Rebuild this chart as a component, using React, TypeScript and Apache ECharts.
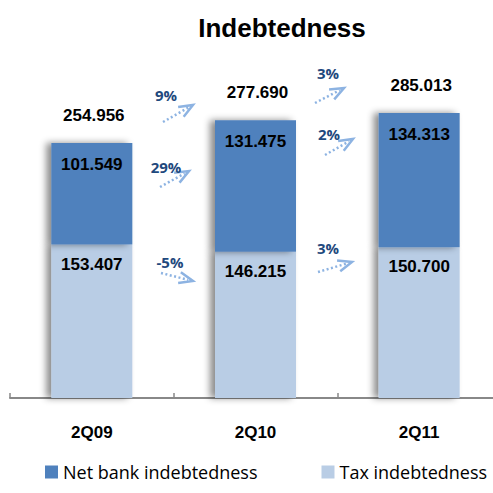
import React, { useEffect, useRef } from "react";
import * as echarts from "echarts";

const categories = ["2Q09", "2Q10", "2Q11"];
const taxIndebtedness = [153.407, 146.215, 150.7];
const netBankIndebtedness = [101.549, 131.475, 134.313];
const totals = [254.956, 277.69, 285.013];
const totalChanges = ["9%", "3%"];
const netBankChanges = ["29%", "2%"];
const taxChanges = ["-5%", "3%"];

const fmt = (v: number) => v.toFixed(3);

const ARROW_COLOR = "#8DB3E2";
const PCT_COLOR = "#1F497D";

function arrow(x0: number, y0: number, x1: number, y1: number, text: string, tx: number, ty: number) {
  const dx = x1 - x0;
  const dy = y1 - y0;
  const ang = Math.atan2(dy, dx);
  const len = 15;
  const half = (22 * Math.PI) / 180;
  const b1 = [x1 - len * Math.cos(ang - half), y1 - len * Math.sin(ang - half)];
  const b2 = [x1 - len * Math.cos(ang + half), y1 - len * Math.sin(ang + half)];
  const sx = x0 + dx * 0.85;
  const sy = y0 + dy * 0.85;
  return [
    {
      type: "line",
      shape: { x1: x0, y1: y0, x2: sx, y2: sy },
      style: { stroke: ARROW_COLOR, lineWidth: 2.5, lineDash: [2, 2.5] },
    },
    {
      type: "polyline",
      shape: { points: [b1, [x1, y1], b2] },
      style: { stroke: ARROW_COLOR, lineWidth: 2.5, fill: "none" },
    },
    {
      type: "text",
      x: tx,
      y: ty,
      style: {
        text,
        fill: PCT_COLOR,
        font: 'bold 15px "Open Sans"',
        align: "center",
        verticalAlign: "middle",
      },
    },
  ];
}

export default function App() {
  const ref = useRef<HTMLDivElement>(null);
  useEffect(() => {
    if (!ref.current) return;
    const chart = echarts.init(ref.current, null, { renderer: "svg" });
    const barLabel = {
      show: true,
      position: "insideTop",
      distance: 11,
      color: "#000",
      fontFamily: "Liberation Sans, Arial",
      fontWeight: "bold",
      fontSize: 17,
      formatter: (p: any) => fmt(p.value),
    };
    const shadow = {
      shadowColor: "rgba(0,0,0,0.45)",
      shadowBlur: 7,
      shadowOffsetX: -5,
    };
    const graphics: any[] = [
      ...arrow(163, 122, 193, 105, totalChanges[0], 166, 95),
      ...arrow(160, 187, 189, 171, netBankChanges[0], 166, 167),
      ...arrow(161, 273, 193, 281, taxChanges[0], 170, 262),
      ...arrow(315, 103, 344, 88, totalChanges[1], 328, 73),
      ...arrow(325, 155, 353, 139, netBankChanges[1], 329, 134),
      ...arrow(318, 272, 352, 262, taxChanges[1], 328, 248),
    ];
    chart.setOption({
      animation: false,
      title: {
        text: "Indebtedness",
        left: 277,
        textAlign: "center",
        top: 10,
        textStyle: {
          fontFamily: "Liberation Sans, Arial",
          fontWeight: "bold",
          fontSize: 26,
          color: "#000",
        },
      },
      legend: {
        data: ["Net bank indebtedness", "Tax indebtedness"],
        left: 45,
        top: 463,
        padding: 0,
        itemWidth: 13,
        itemHeight: 13,
        itemGap: 64,
        icon: "rect",
        textStyle: { fontFamily: "Open Sans", fontSize: 18, color: "#000" },
      },
      grid: { left: 10, width: 491, top: 48, bottom: 95, outerBoundsMode: "none", containLabel: false },
      xAxis: {
        type: "category",
        data: categories,
        axisLine: { lineStyle: { color: "#888", width: 2 } },
        axisTick: { show: true, inside: true, length: 5, interval: 0, lineStyle: { color: "#888", width: 1.5 } },
        axisLabel: {
          margin: 26,
          color: "#000",
          fontFamily: "Liberation Sans, Arial",
          fontWeight: "bold",
          fontSize: 17,
        },
      },
      yAxis: { type: "value", min: 0, max: 350, show: false, splitLine: { show: false } },
      series: [
        {
          name: "Tax indebtedness",
          type: "bar",
          stack: "total",
          barWidth: 81,
          data: taxIndebtedness,
          itemStyle: { color: "#B9CDE5", ...shadow },
          label: barLabel,
        },
        {
          name: "Net bank indebtedness",
          type: "bar",
          stack: "total",
          barWidth: 81,
          data: netBankIndebtedness,
          itemStyle: { color: "#4F81BD", ...shadow },
          label: { ...barLabel, distance: 13 },
        },
        {
          name: "Total",
          type: "scatter",
          data: totals,
          symbolSize: 0,
          silent: true,
          itemStyle: { opacity: 1, color: "#000" },
          label: {
            show: true,
            position: "top",
            distance: 19,
            offset: [2, 0],
            color: "#000",
            fontFamily: "Liberation Sans, Arial",
            fontWeight: "bold",
            fontSize: 17,
            formatter: (p: any) => fmt(p.value),
          },
        },
      ],
      graphic: graphics,
    });
    return () => chart.dispose();
  }, []);
  return (
    <div
      ref={ref}
      style={{ position: "absolute", left: 0, top: 0, width: 493, height: 493 }}
    />
  );
}
